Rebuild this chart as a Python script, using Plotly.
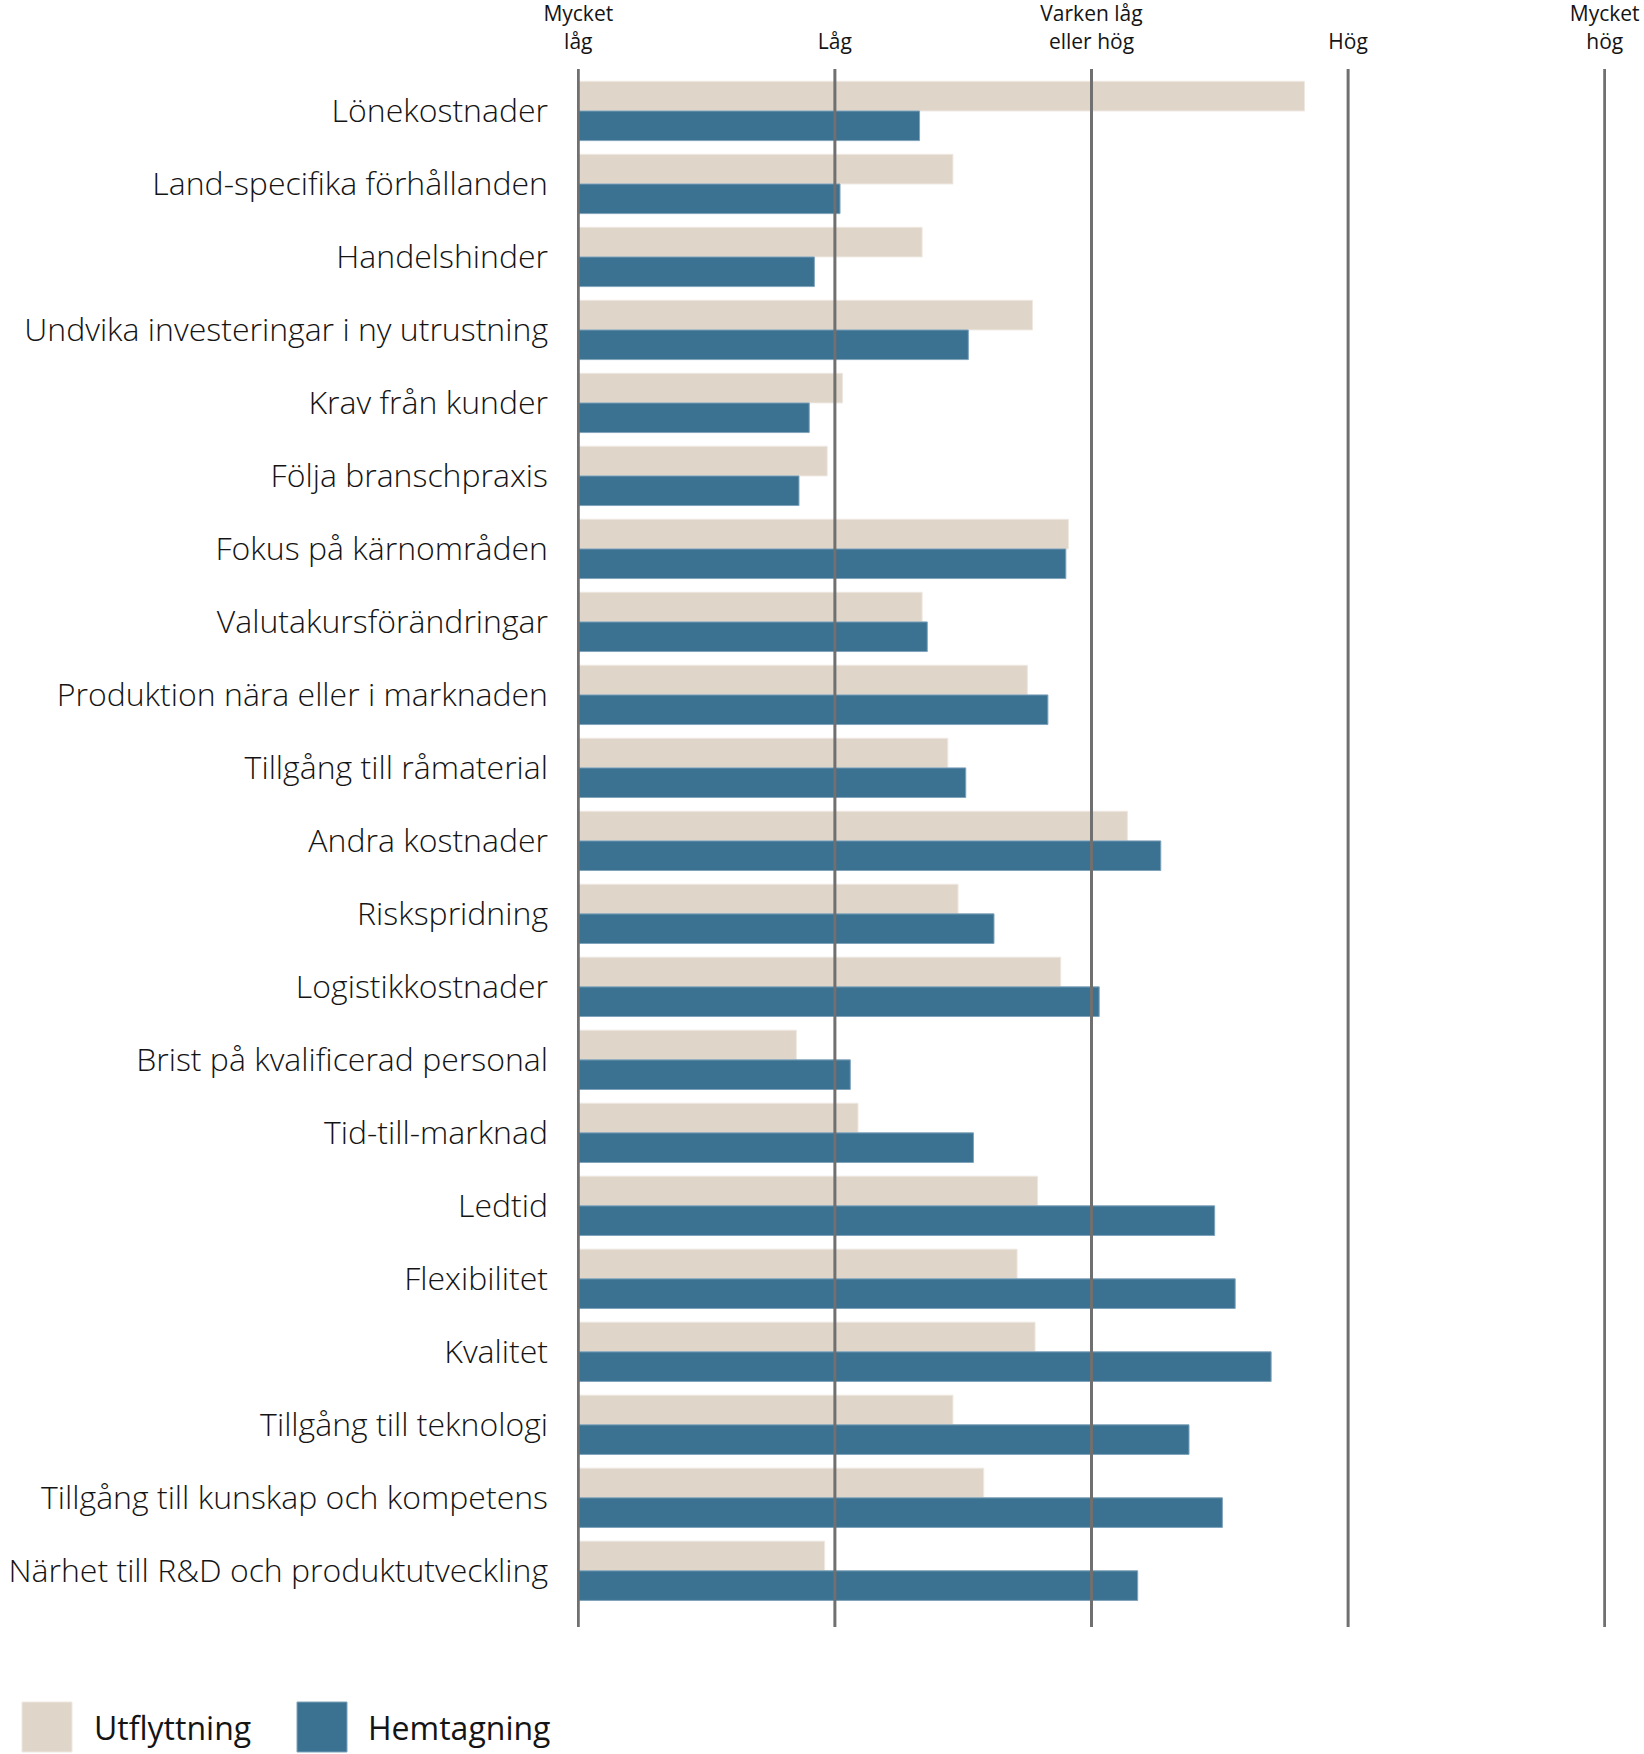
import plotly.graph_objects as go

categories = [
    "Lönekostnader",
    "Land-specifika förhållanden",
    "Handelshinder",
    "Undvika investeringar i ny utrustning",
    "Krav från kunder",
    "Följa branschpraxis",
    "Fokus på kärnområden",
    "Valutakursförändringar",
    "Produktion nära eller i marknaden",
    "Tillgång till råmaterial",
    "Andra kostnader",
    "Riskspridning",
    "Logistikkostnader",
    "Brist på kvalificerad personal",
    "Tid-till-marknad",
    "Ledtid",
    "Flexibilitet",
    "Kvalitet",
    "Tillgång till teknologi",
    "Tillgång till kunskap och kompetens",
    "Närhet till R&D och produktutveckling",
]

utflyttning = [3.83, 2.46, 2.34, 2.77, 2.03, 1.97, 2.91, 2.34, 2.75, 2.44, 3.14,
               2.48, 2.88, 1.85, 2.09, 2.79, 2.71, 2.78, 2.46, 2.58, 1.96]
hemtagning = [2.33, 2.02, 1.92, 2.52, 1.90, 1.86, 2.90, 2.36, 2.83, 2.51, 3.27,
              2.62, 3.03, 2.06, 2.54, 3.48, 3.56, 3.70, 3.38, 3.51, 3.18]

tick_vals = [1, 2, 3, 4, 5]
tick_text = ["Mycket<br>låg", "Låg", "Varken låg<br>eller hög", "Hög", "Mycket<br>hög"]

series_names = ["Utflyttning", "Hemtagning"]
series_colors = ["#E0D5C9", "#3B7292"]
series_lines = ["#EEE8E1", "#7FA3BA"]

W, H = 1644, 1754
# plot area in page pixels
X0, X1, Y0, Y1 = 577, 1606, 69, 1627
ML, MR, MT, MB = X0, W - X1, Y0, H - Y1
PW, PH = W - ML - MR, H - MT - MB
FONT = "Open Sans"
TXT = "#141414"


def px_x(x):
    return (x - ML) / PW


def px_y(y):
    return (H - MB - y) / PH


fig = go.Figure()
for name, vals, col, lc in zip(series_names, [utflyttning, hemtagning], series_colors, series_lines):
    fig.add_trace(go.Bar(
        y=categories, x=vals, name=name, orientation="h",
        marker=dict(color=col, line=dict(color=lc, width=1)),
        showlegend=False,
    ))

# grid lines drawn above the bars
for v in tick_vals:
    fig.add_shape(type="line", xref="x", yref="paper", x0=v, x1=v, y0=0, y1=1,
                  line=dict(color="#707070", width=3), layer="above")

# custom legend
legend_items = [(22, 92), (297, 366)]
for (sx, tx), name, col, lc in zip(legend_items, series_names, series_colors, series_lines):
    fig.add_shape(type="rect", xref="paper", yref="paper",
                  x0=px_x(sx), x1=px_x(sx + 50), y0=px_y(1702), y1=px_y(1752),
                  fillcolor=col, line=dict(color=lc, width=1), layer="above")
    fig.add_annotation(xref="paper", yref="paper", x=px_x(tx), y=px_y(1727),
                       text=name, showarrow=False, xanchor="left", yanchor="middle",
                       font=dict(family=FONT, size=32, color=TXT))

fig.update_layout(
    width=W, height=H,
    margin=dict(l=ML, r=MR, t=MT, b=MB, pad=0, autoexpand=False),
    barmode="group", bargap=0.188, bargroupgap=0,
    plot_bgcolor="white", paper_bgcolor="white",
    font=dict(family=FONT, color=TXT),
    xaxis=dict(range=[0.995, 5.005], side="top", tickvals=tick_vals, ticktext=tick_text,
               showgrid=False, zeroline=False, showline=False, ticks="", automargin=False,
               tickfont=dict(family=FONT, size=21, color=TXT),
               ticklabelstandoff=15),
    yaxis=dict(range=[20.77, -0.575], showgrid=False, zeroline=False, showline=False,
               ticks="", automargin=False,
               tickfont=dict(family=FONT, size=32, color=TXT, weight=300),
               ticklabelstandoff=28),
)

fig.write_html(
    "out.html",
    config={"displayModeBar": False},
    post_script="document.body.style.margin='0px';document.body.style.overflow='hidden';",
)
